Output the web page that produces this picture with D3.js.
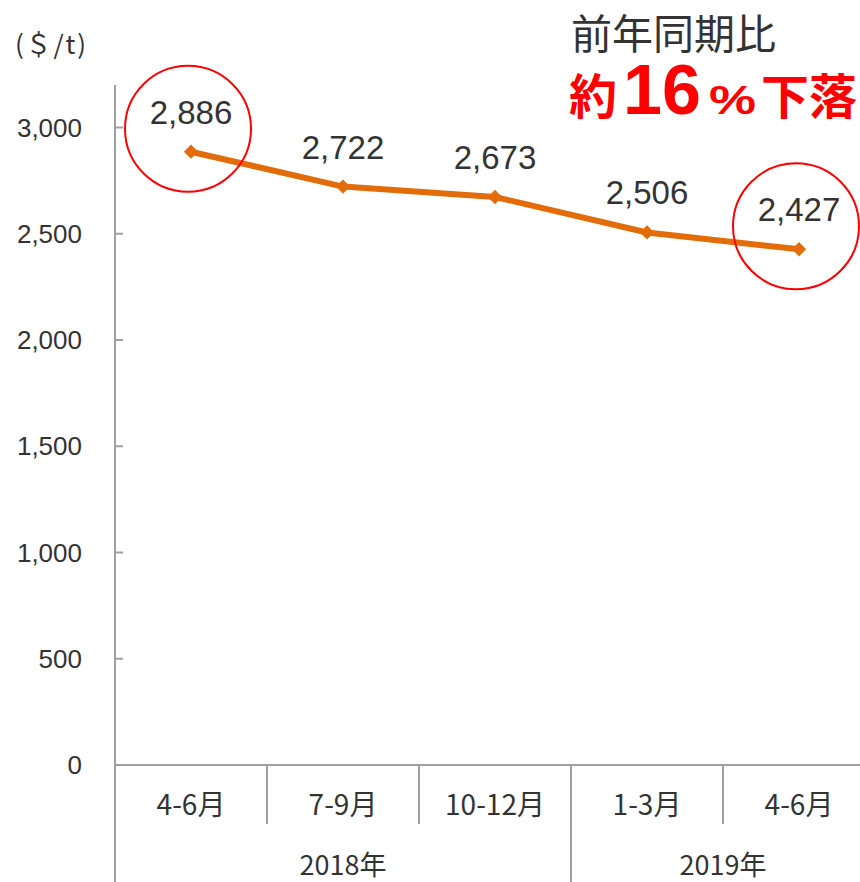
<!DOCTYPE html>
<html>
<head>
<meta charset="utf-8">
<script src="https://cdnjs.cloudflare.com/ajax/libs/d3/7.8.5/d3.min.js"></script>
<style>
body{margin:0;background:#fff;}
svg{display:block;}
</style>
</head>
<body>
<svg id="chart" width="860" height="882"></svg>
<script>
// data
var quarters = ["4-6月","7-9月","10-12月","1-3月","4-6月"];
var years = ["2018年","2018年","2018年","2019年","2019年"];
var prices = [2886, 2722, 2673, 2506, 2427];
var highlight = [0, 4];
var yTicks = [0, 500, 1000, 1500, 2000, 2500, 3000];

var svg = d3.select("#chart");
var axisColor = "#a0a0a0";
var textColor = "#333";

var x = d3.scaleBand().domain(d3.range(quarters.length)).range([115, 875]);
var y = d3.scaleLinear().domain([0, 3200]).range([765, 85]);

// y axis
var yAxis = svg.append("g");
yAxis.append("line")
	.attr("x1",115).attr("x2",115)
	.attr("y1",y(3200)).attr("y2",882)
	.attr("stroke",axisColor).attr("stroke-width",2);
yAxis.selectAll(".tick").data(yTicks).enter().append("line")
	.attr("x1",115).attr("x2",123)
	.attr("y1",function(d){return y(d);}).attr("y2",function(d){return y(d);})
	.attr("stroke",axisColor).attr("stroke-width",2);
yAxis.selectAll("text").data(yTicks).enter().append("text")
	.text(function(d){return d3.format(",")(d);})
	.attr("x",82)
	.attr("y",function(d){return y(d) + 9;})
	.attr("text-anchor","end")
	.attr("font-family","Liberation Sans, Arial, sans-serif")
	.attr("font-size",26)
	.attr("fill",textColor);
svg.append("text")
	.text("(＄/t)")
	.attr("x",15).attr("y",54)
	.attr("textLength",71)
	.attr("font-family","Noto Sans CJK JP, sans-serif")
	.attr("font-size",26)
	.attr("fill",textColor);

// x axis
svg.append("line")
	.attr("x1",115).attr("x2",860)
	.attr("y1",y(0)).attr("y2",y(0))
	.attr("stroke",axisColor).attr("stroke-width",2);
svg.selectAll(".sep").data(d3.range(1, quarters.length)).enter().append("line")
	.attr("x1",function(i){return x(i);}).attr("x2",function(i){return x(i);})
	.attr("y1",y(0))
	.attr("y2",function(i){return years[i] != years[i-1] ? 882 : 824;})
	.attr("stroke",axisColor).attr("stroke-width",2);
svg.selectAll(".qlabel").data(quarters).enter().append("text")
	.text(function(d){return d;})
	.attr("x",function(d,i){return x(i) + x.bandwidth()/2;})
	.attr("y",815)
	.attr("text-anchor","middle")
	.attr("font-family","Noto Sans CJK JP, sans-serif")
	.attr("font-size",28)
	.attr("fill",textColor);
var yearGroups = d3.groups(d3.range(years.length), function(i){return years[i];});
svg.selectAll(".ylabel").data(yearGroups).enter().append("text")
	.text(function(d){return d[0];})
	.attr("x",function(d){
		var idx = d[1];
		return (x(idx[0]) + x(idx[idx.length-1]) + x.bandwidth())/2;
	})
	.attr("y",875)
	.attr("text-anchor","middle")
	.attr("font-family","Noto Sans CJK JP, sans-serif")
	.attr("font-size",27)
	.attr("fill",textColor);

// line
var line = d3.line()
	.x(function(d,i){return x(i) + x.bandwidth()/2;})
	.y(function(d){return y(d);});
svg.append("path")
	.datum(prices)
	.attr("d",line)
	.attr("fill","none")
	.attr("stroke","#e36c0a")
	.attr("stroke-width",6)
	.attr("stroke-linejoin","round");
svg.selectAll(".marker").data(prices).enter().append("path")
	.attr("d",d3.symbol().type(d3.symbolDiamond2).size(130))
	.attr("transform",function(d,i){return "translate(" + (x(i) + x.bandwidth()/2) + "," + y(d) + ")";})
	.attr("fill","#e36c0a");
svg.selectAll(".vlabel").data(prices).enter().append("text")
	.text(function(d){return d3.format(",")(d);})
	.attr("x",function(d,i){return x(i) + x.bandwidth()/2;})
	.attr("y",function(d){return y(d) - 28;})
	.attr("text-anchor","middle")
	.attr("font-family","Liberation Sans, Arial, sans-serif")
	.attr("font-size",33)
	.attr("fill",textColor);

// highlight circles
svg.selectAll(".hl").data(highlight).enter().append("circle")
	.attr("cx",function(i){return x(i) + x.bandwidth()/2 - 3;})
	.attr("cy",function(i){return y(prices[i]) - 23;})
	.attr("r",63)
	.attr("fill","none")
	.attr("stroke","#ff0000")
	.attr("stroke-width",2);

// annotation
svg.append("text")
	.text("前年同期比")
	.attr("x",571).attr("y",49)
	.attr("font-family","Noto Sans CJK JP, sans-serif")
	.attr("font-size",41)
	.attr("fill",textColor);
var note = svg.append("text")
	.attr("y",114)
	.attr("font-family","Noto Sans CJK JP, sans-serif")
	.attr("font-weight","bold")
	.attr("fill","#ff0000");
note.append("tspan").text("約").attr("x",569).attr("font-size",48);
note.append("tspan").text("16").attr("x",623).attr("font-size",70).attr("font-family","Liberation Sans, Arial, sans-serif");
note.append("tspan").text("%").attr("x",709).attr("font-size",40)
	.attr("textLength",47).attr("lengthAdjust","spacingAndGlyphs")
	.attr("font-family","Liberation Sans, Arial, sans-serif");
note.append("tspan").text("下落").attr("x",761).attr("font-size",48);
</script>
</body>
</html>
